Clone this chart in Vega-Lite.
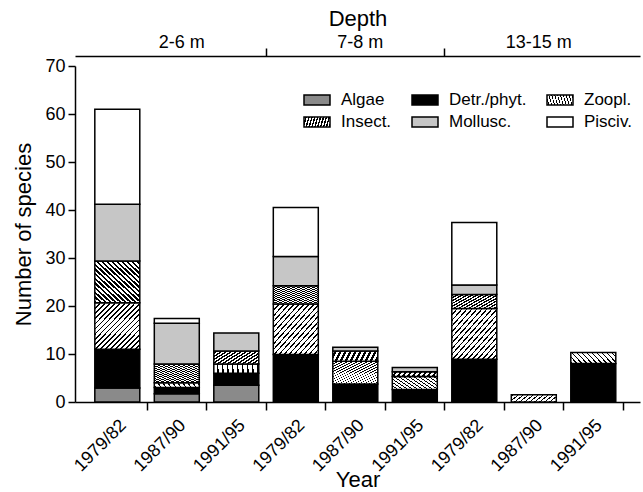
{
  "$schema": "https://vega.github.io/schema/vega-lite/v6.json",
  "autosize": "none",
  "width": 565,
  "height": 336,
  "padding": {"left": 75, "top": 66, "right": 3, "bottom": 90},
  "background": "white",
  "config": {
    "view": {"stroke": null},
    "font": "Liberation Sans",
    "axis": {
      "domainColor": "black", "tickColor": "black", "labelColor": "black", "titleColor": "black",
      "domainWidth": 1.5, "tickWidth": 1.5, "grid": false,
      "labelFontSize": 18, "titleFontSize": 22, "titleFontWeight": "normal"
    }
  },
  "data": {
    "values": [
      {"bar": "2-6 m|1979/82", "group": "Algae", "n": 2.9},
      {"bar": "2-6 m|1979/82", "group": "Detr./phyt.", "n": 8.1},
      {"bar": "2-6 m|1979/82", "group": "Zoopl.", "n": 9.7},
      {"bar": "2-6 m|1979/82", "group": "Insect.", "n": 8.7},
      {"bar": "2-6 m|1979/82", "group": "Mollusc.", "n": 11.8},
      {"bar": "2-6 m|1979/82", "group": "Pisciv.", "n": 19.8},
      {"bar": "2-6 m|1987/90", "group": "Algae", "n": 1.7},
      {"bar": "2-6 m|1987/90", "group": "Detr./phyt.", "n": 1.3},
      {"bar": "2-6 m|1987/90", "group": "Zoopl.", "n": 1.0},
      {"bar": "2-6 m|1987/90", "group": "Insect.", "n": 3.9},
      {"bar": "2-6 m|1987/90", "group": "Mollusc.", "n": 8.5},
      {"bar": "2-6 m|1987/90", "group": "Pisciv.", "n": 1.0},
      {"bar": "2-6 m|1991/95", "group": "Algae", "n": 3.5},
      {"bar": "2-6 m|1991/95", "group": "Detr./phyt.", "n": 2.5},
      {"bar": "2-6 m|1991/95", "group": "Zoopl.", "n": 1.9},
      {"bar": "2-6 m|1991/95", "group": "Insect.", "n": 2.7},
      {"bar": "2-6 m|1991/95", "group": "Mollusc.", "n": 3.8},
      {"bar": "7-8 m|1979/82", "group": "Detr./phyt.", "n": 9.9},
      {"bar": "7-8 m|1979/82", "group": "Zoopl.", "n": 10.5},
      {"bar": "7-8 m|1979/82", "group": "Insect.", "n": 3.8},
      {"bar": "7-8 m|1979/82", "group": "Mollusc.", "n": 6.1},
      {"bar": "7-8 m|1979/82", "group": "Pisciv.", "n": 10.2},
      {"bar": "7-8 m|1987/90", "group": "Detr./phyt.", "n": 3.75},
      {"bar": "7-8 m|1987/90", "group": "Zoopl.", "n": 4.75},
      {"bar": "7-8 m|1987/90", "group": "Insect.", "n": 2.1},
      {"bar": "7-8 m|1987/90", "group": "Mollusc.", "n": 0.8},
      {"bar": "7-8 m|1991/95", "group": "Detr./phyt.", "n": 2.6},
      {"bar": "7-8 m|1991/95", "group": "Zoopl.", "n": 2.7},
      {"bar": "7-8 m|1991/95", "group": "Insect.", "n": 1.0},
      {"bar": "7-8 m|1991/95", "group": "Mollusc.", "n": 0.9},
      {"bar": "13-15 m|1979/82", "group": "Detr./phyt.", "n": 8.9},
      {"bar": "13-15 m|1979/82", "group": "Zoopl.", "n": 10.6},
      {"bar": "13-15 m|1979/82", "group": "Insect.", "n": 2.9},
      {"bar": "13-15 m|1979/82", "group": "Mollusc.", "n": 2.0},
      {"bar": "13-15 m|1979/82", "group": "Pisciv.", "n": 13.0},
      {"bar": "13-15 m|1987/90", "group": "Zoopl.", "n": 1.5},
      {"bar": "13-15 m|1991/95", "group": "Detr./phyt.", "n": 8.0},
      {"bar": "13-15 m|1991/95", "group": "Zoopl.", "n": 2.3}
    ]
  },
  "transform": [
    {"calculate": "indexof(['Algae','Detr./phyt.','Zoopl.','Insect.','Mollusc.','Pisciv.'], datum.group)", "as": "rank"}
  ],
  "layer": [
    {
      "mark": {"type": "bar", "stroke": "black", "strokeWidth": 1.5},
      "encoding": {
        "x": {
          "field": "bar", "type": "nominal",
          "scale": {"domain": ["2-6 m|1979/82","2-6 m|1987/90","2-6 m|1991/95","7-8 m|1979/82","7-8 m|1987/90","7-8 m|1991/95","13-15 m|1979/82","13-15 m|1987/90","13-15 m|1991/95"], "paddingInner": 0.244, "paddingOuter": 0.37, "align": 0.45},
          "axis": {"orient": "bottom", "title": "Year", "labelExpr": "split(datum.value, '|')[1]", "labelAngle": -45, "bandPosition": 1.161, "tickSize": 8, "labelPadding": 6, "titleY": 84, "titleBaseline": "alphabetic"}
        },
        "y": {
          "field": "n", "type": "quantitative", "stack": "zero",
          "scale": {"domain": [0, 70], "nice": false},
          "axis": {"title": "Number of species", "values": [0,10,20,30,40,50,60,70], "tickSize": 7, "labelPadding": 3, "titleX": -45, "titleBaseline": "alphabetic"}
        },
        "order": {"field": "rank", "type": "quantitative", "sort": "ascending"},
        "fill": {
          "field": "group", "type": "nominal",
          "scale": {"domain": ["Algae","Detr./phyt.","Zoopl.","Insect.","Mollusc.","Pisciv."], "range": [
            "#8a8a8a",
            "#000000",
            {"expr": "{gradient:'linear',x1:0,y1:0,x2:1,y2:1,stops:[{offset:0,color:'black'},{offset:0.0167,color:'black'},{offset:0.0167,color:'white'},{offset:0.0556,color:'white'},{offset:0.0556,color:'black'},{offset:0.0722,color:'black'},{offset:0.0722,color:'white'},{offset:0.1111,color:'white'},{offset:0.1111,color:'black'},{offset:0.1278,color:'black'},{offset:0.1278,color:'white'},{offset:0.1667,color:'white'},{offset:0.1667,color:'black'},{offset:0.1833,color:'black'},{offset:0.1833,color:'white'},{offset:0.2222,color:'white'},{offset:0.2222,color:'black'},{offset:0.2389,color:'black'},{offset:0.2389,color:'white'},{offset:0.2778,color:'white'},{offset:0.2778,color:'black'},{offset:0.2944,color:'black'},{offset:0.2944,color:'white'},{offset:0.3333,color:'white'},{offset:0.3333,color:'black'},{offset:0.35,color:'black'},{offset:0.35,color:'white'},{offset:0.3889,color:'white'},{offset:0.3889,color:'black'},{offset:0.4056,color:'black'},{offset:0.4056,color:'white'},{offset:0.4444,color:'white'},{offset:0.4444,color:'black'},{offset:0.4611,color:'black'},{offset:0.4611,color:'white'},{offset:0.5,color:'white'},{offset:0.5,color:'black'},{offset:0.5167,color:'black'},{offset:0.5167,color:'white'},{offset:0.5556,color:'white'},{offset:0.5556,color:'black'},{offset:0.5722,color:'black'},{offset:0.5722,color:'white'},{offset:0.6111,color:'white'},{offset:0.6111,color:'black'},{offset:0.6278,color:'black'},{offset:0.6278,color:'white'},{offset:0.6667,color:'white'},{offset:0.6667,color:'black'},{offset:0.6833,color:'black'},{offset:0.6833,color:'white'},{offset:0.7222,color:'white'},{offset:0.7222,color:'black'},{offset:0.7389,color:'black'},{offset:0.7389,color:'white'},{offset:0.7778,color:'white'},{offset:0.7778,color:'black'},{offset:0.7944,color:'black'},{offset:0.7944,color:'white'},{offset:0.8333,color:'white'},{offset:0.8333,color:'black'},{offset:0.85,color:'black'},{offset:0.85,color:'white'},{offset:0.8889,color:'white'},{offset:0.8889,color:'black'},{offset:0.9056,color:'black'},{offset:0.9056,color:'white'},{offset:0.9444,color:'white'},{offset:0.9444,color:'black'},{offset:0.9611,color:'black'},{offset:0.9611,color:'white'},{offset:1,color:'white'}]}"},
            {"expr": "{gradient:'linear',x1:0,y1:1,x2:1,y2:0,stops:[{offset:0,color:'black'},{offset:0.0278,color:'black'},{offset:0.0278,color:'white'},{offset:0.0556,color:'white'},{offset:0.0556,color:'black'},{offset:0.0833,color:'black'},{offset:0.0833,color:'white'},{offset:0.1111,color:'white'},{offset:0.1111,color:'black'},{offset:0.1389,color:'black'},{offset:0.1389,color:'white'},{offset:0.1667,color:'white'},{offset:0.1667,color:'black'},{offset:0.1944,color:'black'},{offset:0.1944,color:'white'},{offset:0.2222,color:'white'},{offset:0.2222,color:'black'},{offset:0.25,color:'black'},{offset:0.25,color:'white'},{offset:0.2778,color:'white'},{offset:0.2778,color:'black'},{offset:0.3056,color:'black'},{offset:0.3056,color:'white'},{offset:0.3333,color:'white'},{offset:0.3333,color:'black'},{offset:0.3611,color:'black'},{offset:0.3611,color:'white'},{offset:0.3889,color:'white'},{offset:0.3889,color:'black'},{offset:0.4167,color:'black'},{offset:0.4167,color:'white'},{offset:0.4444,color:'white'},{offset:0.4444,color:'black'},{offset:0.4722,color:'black'},{offset:0.4722,color:'white'},{offset:0.5,color:'white'},{offset:0.5,color:'black'},{offset:0.5278,color:'black'},{offset:0.5278,color:'white'},{offset:0.5556,color:'white'},{offset:0.5556,color:'black'},{offset:0.5833,color:'black'},{offset:0.5833,color:'white'},{offset:0.6111,color:'white'},{offset:0.6111,color:'black'},{offset:0.6389,color:'black'},{offset:0.6389,color:'white'},{offset:0.6667,color:'white'},{offset:0.6667,color:'black'},{offset:0.6944,color:'black'},{offset:0.6944,color:'white'},{offset:0.7222,color:'white'},{offset:0.7222,color:'black'},{offset:0.75,color:'black'},{offset:0.75,color:'white'},{offset:0.7778,color:'white'},{offset:0.7778,color:'black'},{offset:0.8056,color:'black'},{offset:0.8056,color:'white'},{offset:0.8333,color:'white'},{offset:0.8333,color:'black'},{offset:0.8611,color:'black'},{offset:0.8611,color:'white'},{offset:0.8889,color:'white'},{offset:0.8889,color:'black'},{offset:0.9167,color:'black'},{offset:0.9167,color:'white'},{offset:0.9444,color:'white'},{offset:0.9444,color:'black'},{offset:0.9722,color:'black'},{offset:0.9722,color:'white'},{offset:1,color:'white'}]}"},
            "#c6c6c6",
            "#ffffff"
          ]},
          "legend": {
            "title": null, "orient": "none", "legendX": 231, "legendY": 23,
            "direction": "horizontal", "columns": 3, "padding": 0,
            "symbolType": "M-1.3,-0.5H1.3V0.5H-1.3Z", "symbolSize": 400,
            "symbolStrokeColor": "black", "symbolStrokeWidth": 1.5, "symbolOpacity": 1,
            "labelFontSize": 17, "labelColor": "black", "labelOffset": 13,
            "columnPadding": 17, "rowPadding": 3
          }
        }
      }
    },
    {
      "mark": {"type": "bar", "opacity": 0},
      "encoding": {
        "x": {
          "field": "bar", "type": "nominal",
          "scale": {"domain": ["2-6 m|1979/82","2-6 m|1987/90","2-6 m|1991/95","7-8 m|1979/82","7-8 m|1987/90","7-8 m|1991/95","13-15 m|1979/82","13-15 m|1987/90","13-15 m|1991/95"], "paddingInner": 0.244, "paddingOuter": 0.37, "align": 0.45},
          "axis": {"orient": "top", "offset": 10, "values": ["2-6 m|1991/95", "7-8 m|1991/95"], "bandPosition": 1.161, "tickSize": 8, "labels": false, "title": null}
        }
      }
    },
    {
      "mark": {"type": "bar", "opacity": 0},
      "encoding": {
        "x": {
          "field": "bar", "type": "nominal",
          "scale": {"domain": ["2-6 m|1979/82","2-6 m|1987/90","2-6 m|1991/95","7-8 m|1979/82","7-8 m|1987/90","7-8 m|1991/95","13-15 m|1979/82","13-15 m|1987/90","13-15 m|1991/95"], "paddingInner": 0.244, "paddingOuter": 0.37, "align": 0.45},
          "axis": {"orient": "top", "offset": 10, "values": ["2-6 m|1987/90", "7-8 m|1987/90", "13-15 m|1987/90"], "ticks": false, "tickSize": 0, "domain": false, "labelExpr": "split(datum.value, '|')[0]", "labelAngle": 0, "labelPadding": 9, "labelBaseline": "alphabetic", "labelOffset": 5, "title": "Depth", "titleY": -31, "titleBaseline": "alphabetic"}
        }
      }
    }
  ],
  "resolve": {"axis": {"x": "independent"}}
}
